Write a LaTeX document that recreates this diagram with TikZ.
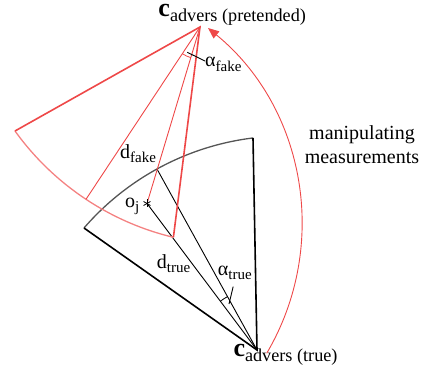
\documentclass[tikz,border=0pt]{standalone}
\usepackage{fontspec}
\setmainfont{Liberation Serif}
\usepackage{tikz}
\usetikzlibrary{calc,angles,arrows.meta}
\usepackage{xcolor}
\definecolor{fakered}{RGB}{238,72,72}
\definecolor{fakearc}{RGB}{244,130,130}
\definecolor{truearc}{RGB}{85,85,85}
\newcommand{\lowtext}[1]{\raisebox{-4.5bp}{\fontsize{15bp}{15bp}\selectfont #1}}
\newcommand{\camtext}[1]{\raisebox{-5bp}{\mdseries\fontsize{18.2bp}{18.2bp}\selectfont #1}}

\begin{document}
\begin{tikzpicture}[
    x=1bp, y=1bp,
    lbl/.style={inner sep=0, anchor=base west, font=\fontsize{20bp}{24bp}\selectfont},
    cam/.style={inner sep=0, anchor=base west, font=\fontsize{26bp}{26bp}\selectfont\bfseries},
    edge/.style={line width=1.6bp},
    ray/.style={line width=0.9bp},
    lead/.style={line width=0.9bp},
    manarr/.style={fakered, line width=0.9bp, -{Triangle[length=11bp, width=9bp]}},
]
\useasboundingbox (0,0) rectangle (426,373);

% true camera
\coordinate (ct) at (257,23);
\coordinate (tl) at (84,145);
\coordinate (tr) at (253,235);
\coordinate (ta) at (157,204);
\coordinate (oj) at (147,169.5);

% pretended camera
\coordinate (cp) at (200,346);
\coordinate (pl) at (15,242);
\coordinate (pr) at (173.4,135.7);
\coordinate (rf) at (86,173.7);

\draw[truearc, line width=1.3bp] (tl) arc[start angle=139.1, end angle=97.0, radius=266.5];
\draw[edge] (tl) -- (ct) -- (tr);
\draw[ray] (ct) -- (oj);
\draw[ray] (ct) -- (ta);
\pic[draw, line width=0.8bp, angle radius=61bp] {angle=ta--ct--oj};

\draw[fakearc, line width=1.3bp] (pl) arc[start angle=215.75, end angle=256.5, radius=273.9];
\draw[fakered, edge] (pl) -- (cp) -- (pr);
\draw[fakered, ray] (cp) -- (rf);
\draw[fakered, ray] (cp) -- (oj);
\pic[draw=fakered, line width=0.8bp, angle radius=32bp] {angle=rf--cp--oj};

\foreach \a in {90,30,150}
  \draw[line width=0.8bp] (oj) ++(\a:4) -- ++(\a+180:8);

\node[cam] (cpl) at (158.3,356.3) {c\camtext{advers (pretended)}};
\node[cam] (ctl) at (233.3,16.5) {c\camtext{advers (true)}};
\node[lbl, anchor=base, align=center] (manip) at (362,209.7) {manipulating\\measurements};
\node[lbl] (dfk) at (120,215) {d\lowtext{fake}};
\node[lbl] (ojl) at (125,166) {o\lowtext{j}};
\node[lbl] (dtr) at (156.7,104.7) {d\lowtext{true}};
\node[lbl] (atr) at (217.7,98) {α\lowtext{true}};
\node[lbl] (afk) at (205,306.3) {α\lowtext{fake}};

\coordinate (fk1) at (187.3,320.7);
\coordinate (tr1) at (229,69);
\draw[lead] (fk1) -- (afk.170);
\draw[lead, shorten >=7bp] (tr1) -- (atr.south);

\coordinate (ms) at (266.7,19.7);
\coordinate (me) at (208,345);
\draw[manarr] (ms) to[out=59.5, in=-39.3, looseness=0.97] (me);
\end{tikzpicture}
\end{document}
